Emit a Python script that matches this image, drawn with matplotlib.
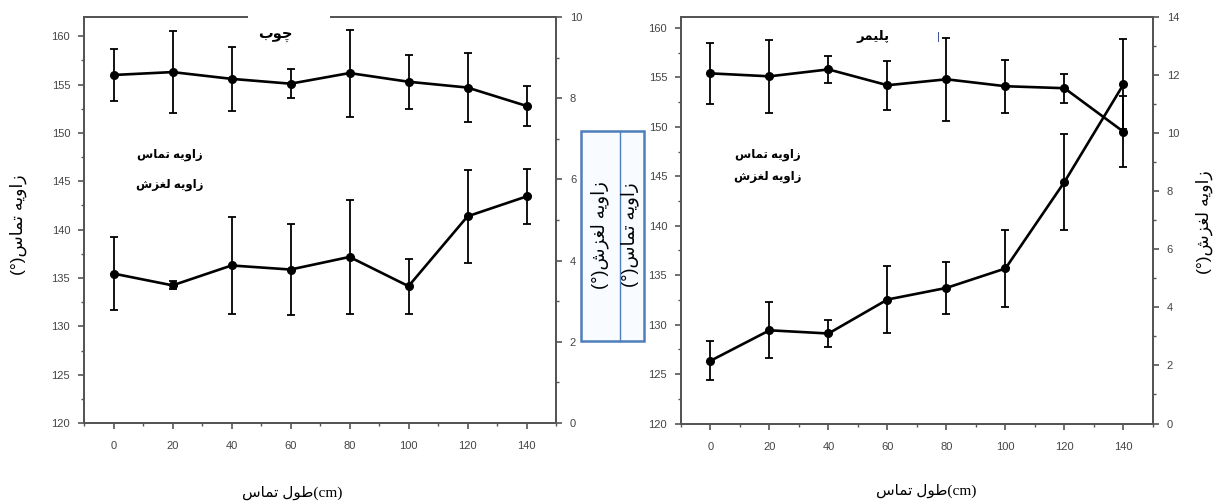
import matplotlib
matplotlib.use("Agg")
import matplotlib.pyplot as plt
from matplotlib.patches import Rectangle
from matplotlib.ticker import MultipleLocator

plt.rcParams['font.family'] = ['Liberation Sans', 'DejaVu Sans']

# contact length (cm)
x = [0, 20, 40, 60, 80, 100, 120, 140]

# wood panel
wood_contact = [156.0, 156.3, 155.6, 155.1, 156.2, 155.3, 154.7, 152.8]
wood_contact_err = [2.7, 4.2, 3.3, 1.5, 4.5, 2.8, 3.6, 2.1]
wood_sliding = [3.68, 3.39, 3.88, 3.78, 4.09, 3.37, 5.09, 5.58]
wood_sliding_err = [0.9, 0.1, 1.2, 1.13, 1.4, 0.68, 1.14, 0.68]

# polymer panel
poly_contact = [155.4, 155.1, 155.8, 154.2, 154.8, 154.1, 153.9, 149.5]
poly_contact_err = [3.1, 3.7, 1.4, 2.5, 4.2, 2.7, 1.45, 3.6]
poly_sliding = [2.16, 3.21, 3.10, 4.27, 4.67, 5.34, 8.32, 11.68]
poly_sliding_err = [0.67, 0.97, 0.46, 1.15, 0.9, 1.32, 1.65, 1.55]

title_wood = "چوب"
title_poly = "پلیمر"
lbl_contact = "زاویه تماس"
lbl_sliding = "زاویه لغزش"
lbl_length = "طول تماس"

# minimal Persian shaping (matplotlib has no bidi/shaping of its own)
FORMS = {
    'ا': ('\uFE8D', '\uFE8E', None, None),
    'ب': ('\uFE8F', '\uFE90', '\uFE91', '\uFE92'),
    'پ': ('\uFB56', '\uFB57', '\uFB58', '\uFB59'),
    'ت': ('\uFE95', '\uFE96', '\uFE97', '\uFE98'),
    'چ': ('\uFB7A', '\uFB7B', '\uFB7C', '\uFB7D'),
    'ر': ('\uFEAD', '\uFEAE', None, None),
    'ز': ('\uFEAF', '\uFEB0', None, None),
    'س': ('\uFEB1', '\uFEB2', '\uFEB3', '\uFEB4'),
    'ش': ('\uFEB5', '\uFEB6', '\uFEB7', '\uFEB8'),
    'ط': ('\uFEC1', '\uFEC2', '\uFEC3', '\uFEC4'),
    'غ': ('\uFECD', '\uFECE', '\uFECF', '\uFED0'),
    'ل': ('\uFEDD', '\uFEDE', '\uFEDF', '\uFEE0'),
    'م': ('\uFEE1', '\uFEE2', '\uFEE3', '\uFEE4'),
    'ه': ('\uFEE9', '\uFEEA', '\uFEEB', '\uFEEC'),
    'و': ('\uFEED', '\uFEEE', None, None),
    'ی': ('\uFBFC', '\uFBFD', '\uFBFE', '\uFBFF'),
}


def fa(s):
    out = []
    for i, ch in enumerate(s):
        if ch not in FORMS:
            out.append(ch)
            continue
        prev = s[i - 1] if i > 0 else ''
        nxt = s[i + 1] if i + 1 < len(s) else ''
        jp = prev in FORMS and FORMS[prev][2] is not None
        jn = nxt in FORMS and FORMS[ch][2] is not None
        iso, fin, ini, med = FORMS[ch]
        if jp and jn:
            out.append(med)
        elif jp:
            out.append(fin)
        elif jn:
            out.append(ini)
        else:
            out.append(iso)
    return ''.join(reversed(out))


def style(ax, ax2, ymax, rmax):
    ax.set_xlim(-10, 150)
    ax.set_ylim(120, ymax)
    ax2.set_ylim(0, rmax)
    ax.xaxis.set_major_locator(MultipleLocator(20))
    ax.xaxis.set_minor_locator(MultipleLocator(10))
    ax.yaxis.set_major_locator(MultipleLocator(5))
    ax.yaxis.set_minor_locator(MultipleLocator(2.5))
    ax2.yaxis.set_major_locator(MultipleLocator(2))
    ax2.yaxis.set_minor_locator(MultipleLocator(1))
    for a in (ax, ax2):
        for sp in a.spines.values():
            sp.set_color('#555555')
            sp.set_linewidth(1.4)
        a.tick_params(which='major', length=4, width=1.2, color='#555555',
                      labelsize=8, labelcolor='#444444', pad=6)
        a.tick_params(which='minor', length=2.5, width=1.0, color='#555555')
    ax.tick_params(axis='x', pad=9)


def draw(ax, ax2, cont, cont_err, slid, slid_err):
    kw = dict(fmt='-o', color='black', lw=1.9, ms=5.5, capsize=3,
              elinewidth=1.3, capthick=1.3)
    ax.errorbar(x, cont, yerr=cont_err, **kw)
    ax2.errorbar(x, slid, yerr=slid_err, **kw)


fig = plt.figure(figsize=(12.18, 5.04), dpi=100)

axL = fig.add_axes([0.0690, 0.1607, 0.3875, 0.8056])
axL2 = axL.twinx()
style(axL, axL2, 162, 10)
draw(axL, axL2, wood_contact, wood_contact_err, wood_sliding, wood_sliding_err)

axR = fig.add_axes([0.5591, 0.1597, 0.3875, 0.8066])
axR2 = axR.twinx()
style(axR, axR2, 161.1, 14)
draw(axR, axR2, poly_contact, poly_contact_err, poly_sliding, poly_sliding_err)

# title box over the top spine of the left panel
axL2.add_patch(Rectangle((0.347, 0.93), 0.174, 0.1, transform=axL2.transAxes,
                         facecolor='white', edgecolor='none', clip_on=False, zorder=5))
axL2.text(0.405, 0.956, fa(title_wood), transform=axL2.transAxes, ha='center',
          va='center', fontsize=10.5, fontweight='bold', zorder=6)
axR2.text(0.407, 0.951, fa(title_poly), transform=axR2.transAxes, ha='center',
          va='center', fontsize=9.5, fontweight='bold', zorder=6)
axR2.text(0.545, 0.951, '|', transform=axR2.transAxes, ha='center', va='center',
          fontsize=8, color='#2a3f8f', zorder=6)

# legend text without symbols
for a, xs, ys in ((axL2, 0.182, (0.660, 0.586)), (axR2, 0.184, (0.661, 0.607))):
    a.text(xs, ys[0], fa(lbl_contact), transform=a.transAxes, ha='center',
           va='center', fontsize=8.5, fontweight='bold')
    a.text(xs, ys[1], fa(lbl_sliding), transform=a.transAxes, ha='center',
           va='center', fontsize=8.5, fontweight='bold')

# y labels
fig.text(0.0148, 0.554, '(°)' + fa(lbl_contact), rotation=90, ha='center',
         va='center', fontsize=12.5)
fig.text(0.989, 0.56, '(°)' + fa(lbl_sliding), rotation=90, ha='center',
         va='center', fontsize=12.5)

# blue box with the two middle axis titles
fig.patches.append(Rectangle((0.477, 0.3234), 0.0517, 0.4167, transform=fig.transFigure,
                             facecolor='#f8fbff', edgecolor='#4f7fba', lw=1.8, zorder=10))
fig.lines.append(plt.Line2D([0.509, 0.509], [0.3234, 0.7401], transform=fig.transFigure,
                            color='#4f7fba', lw=1.0, zorder=11))
fig.text(0.4926, 0.534, '(°)' + fa(lbl_sliding), rotation=90, ha='center',
         va='center', fontsize=13, zorder=12)
fig.text(0.5172, 0.534, '(°)' + fa(lbl_contact), rotation=90, ha='center',
         va='center', fontsize=13, zorder=12)

# x labels
for xc, yc in ((0.2397, 0.022), (0.7603, 0.026)):
    fig.text(xc, yc, fa(lbl_length) + '(cm)', ha='center', va='center',
             fontsize=11, family=['Liberation Serif', 'DejaVu Sans'])

fig.savefig('out.png', dpi=100)
